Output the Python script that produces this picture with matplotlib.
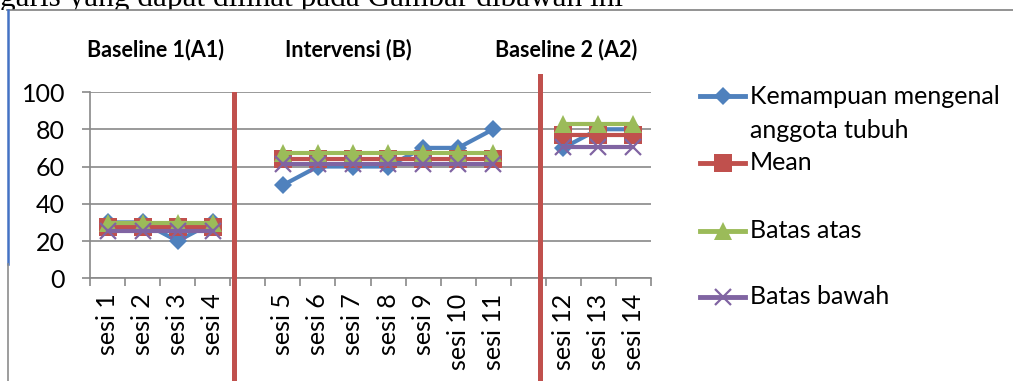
import numpy as np
import matplotlib
matplotlib.use("Agg")
import matplotlib.pyplot as plt
from matplotlib.lines import Line2D
from matplotlib.patches import Rectangle
from matplotlib.transforms import blended_transform_factory

# categories (empty slots separate the phases)
sessions = ["sesi 1", "sesi 2", "sesi 3", "sesi 4", "",
            "sesi 5", "sesi 6", "sesi 7", "sesi 8", "sesi 9", "sesi 10", "sesi 11", "",
            "sesi 12", "sesi 13", "sesi 14"]
nan = np.nan
kemampuan = [30, 30, 20, 30, nan, 50, 60, 60, 60, 70, 70, 80, nan, 70, 80, 80]
mean = [27.5] * 4 + [nan] + [64.3] * 7 + [nan] + [76.7] * 3
batas_atas = [29.75] * 4 + [nan] + [67.3] * 7 + [nan] + [82.7] * 3
batas_bawah = [25.25] * 4 + [nan] + [61.3] * 7 + [nan] + [70.7] * 3

phase_labels = ["Baseline 1(A1)", "Intervensi (B)", "Baseline 2 (A2)"]
phase_change = [3.62, 12.33]

BLUE, RED, GREEN, PURPLE = "#4F81BD", "#C0504D", "#9BBB59", "#8064A2"
series = [
    ("Kemampuan mengenal\nanggota tubuh", kemampuan, BLUE, "D", 9, 0),
    ("Mean", mean, RED, "s", 13, 0),
    ("Batas atas", batas_atas, GREEN, "^", 13, 0),
    ("Batas bawah", batas_bawah, PURPLE, "x", 12, 1.6),
]

plt.rcParams["font.family"] = ["Lato", "DejaVu Sans"]
FS = 18
W, H = 1013, 381
fig = plt.figure(figsize=(W / 100, H / 100), dpi=100)
ax = fig.add_axes([90 / W, (H - 278.3) / H, 561 / W, (278.3 - 92) / H])

x = np.arange(len(sessions))
for label, vals, col, mk, ms, mew in series:
    ax.plot(x, vals, color=col, lw=3, marker=mk, markersize=ms,
            markeredgewidth=mew, markeredgecolor=col, zorder=3)

grid_col = "#898989"
ax.set_ylim(0, 100)
ax.set_xlim(-0.5, len(sessions) - 0.5)
ax.set_yticks(np.arange(0, 101, 20))
ax.yaxis.grid(True, color=grid_col, lw=1.2)
ax.set_axisbelow(True)
for s in ["top", "right"]:
    ax.spines[s].set_visible(False)
for s in ["left", "bottom"]:
    ax.spines[s].set_color(grid_col)
    ax.spines[s].set_linewidth(1.2)
ax.tick_params(axis="y", length=6, width=1.2, color=grid_col, pad=12, labelsize=FS)

ax.set_xticks(np.arange(-0.5, len(sessions), 1))
ax.set_xticklabels([])
ax.set_xticks(x, minor=True)
ax.set_xticklabels(sessions, minor=True, rotation=90, fontsize=FS)
ax.tick_params(axis="x", which="major", length=6, width=1.2, color=grid_col)
ax.tick_params(axis="x", which="minor", length=0, pad=11)

# phase change lines
tr = blended_transform_factory(ax.transData, fig.transFigure)
for xc, top in zip(phase_change, [94, 76]):
    ax.add_line(Line2D([xc, xc], [0, (H - top) / H], transform=tr, color=RED,
                       lw=3.6, clip_on=False, zorder=5))

# phase labels
for lab, cx in zip(phase_labels, [155.5, 348, 566]):
    fig.text(cx / W, (H - 50) / H, lab, ha="center", va="center",
             fontsize=15.5, fontweight="bold")

# legend drawn by hand
for (label, vals, col, mk, ms, mew), ly in zip(series, [96, 163, 231, 297]):
    yf = (H - ly) / H
    fig.add_artist(Line2D([700 / W, 745 / W], [yf, yf], color=col, lw=3.5))
    fig.add_artist(Line2D([722.5 / W], [yf], color=col, marker=mk, markersize=ms,
                          markeredgewidth=mew, markeredgecolor=col))
    fig.text(750 / W, yf, label.split("\n")[0], ha="left", va="center", fontsize=FS)
    if "\n" in label:
        fig.text(750 / W, (H - 130) / H, label.split("\n")[1], ha="left",
                 va="center", fontsize=FS)

# cut-off sentence of the page above the chart, hidden below the chart box
fig.text(0, (H - 6) / H, "garis yang dapat dilihat pada Gambar dibawah ini",
         ha="left", va="baseline", fontsize=22.5, family="Liberation Serif", zorder=-3)
fig.add_artist(Rectangle((0, 0), 1, (H - 10) / H, transform=fig.transFigure,
                         facecolor="white", edgecolor="none", zorder=-2))
fig.add_artist(Line2D([7 / W, 1], [(H - 10) / H] * 2, color="#808080", lw=1.2))
fig.add_artist(Line2D([7.5 / W] * 2, [(H - 10) / H, (H - 264) / H], color="#4472C4", lw=1.8))
fig.add_artist(Line2D([7.5 / W] * 2, [(H - 264) / H, 0], color="#8C8C8C", lw=1.2))

fig.savefig("out.png", dpi=100)
